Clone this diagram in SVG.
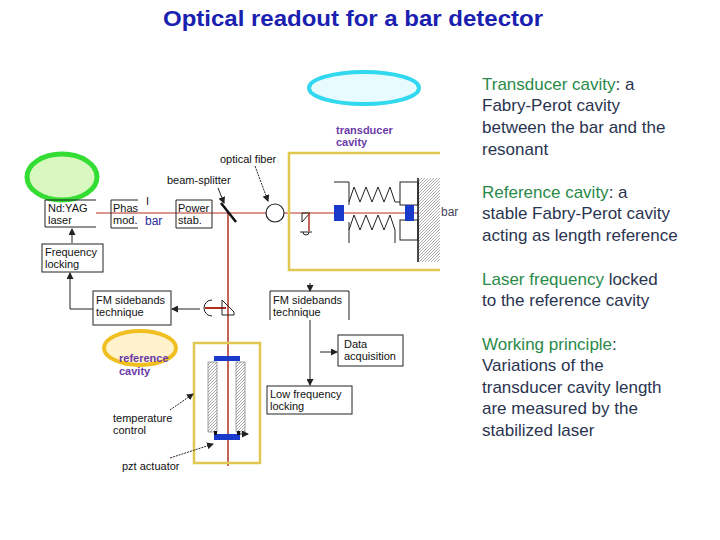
<svg xmlns="http://www.w3.org/2000/svg" width="720" height="540" viewBox="0 0 720 540">
<style>
text{font-family:"Liberation Sans",Arial,sans-serif}
.s{font-size:11px;fill:#111}
.r{font-size:17px;fill:#2a3450}
.g{fill:#2a8a4a}
.b{fill:none;stroke:#222;stroke-width:1}
.p{font-size:11px;font-weight:bold;fill:#6a3aa8}
.y{fill:none;stroke:#e0c850;stroke-width:2.5}
.a{stroke:#222;stroke-width:1;fill:none;marker-end:url(#ar)}
</style>
<defs>
<marker id="ar" markerWidth="7" markerHeight="7" refX="6" refY="3.5" orient="auto"><path d="M0,0L7,3.5L0,7z" fill="#222"/></marker>
<pattern id="h" width="3" height="3" patternUnits="userSpaceOnUse"><rect width="3" height="3" fill="#fff"/><path d="M0,3L3,0" stroke="#888" stroke-width="0.7"/></pattern>
</defs>
<rect width="720" height="540" fill="#fff"/>
<text x="163" y="26" textLength="380" lengthAdjust="spacingAndGlyphs" font-size="22" font-weight="bold" fill="#1a20b0">Optical readout for a bar detector</text>
<ellipse id="cyan" cx="364" cy="88" rx="55" ry="16" fill="#e8fbff" stroke="#30d8f0" stroke-width="4"/>
<ellipse id="green" cx="62" cy="177" rx="35" ry="23" fill="#d8f8c0" stroke="#33dd33" stroke-width="5"/>
<ellipse id="orange" cx="140" cy="348" rx="36" ry="17" fill="#fff2cc" stroke="#f0c020" stroke-width="4"/>
<g id="beams" stroke="#b03020">
<line x1="96" y1="213" x2="418" y2="213" stroke-width="1"/>
<line x1="228" y1="213" x2="228" y2="466" stroke-width="1.5"/>
<line x1="205" y1="308" x2="226" y2="308" stroke-width="2"/>
</g>
<g id="laser"><path class="b" d="M96,200H45V227H96"/><text class="s" x="48" y="212">Nd:YAG</text><text class="s" x="48" y="224">laser</text></g>
<g id="phase"><path class="b" d="M138,200H111V228H138"/><text class="s" x="113" y="212">Phas</text><text class="s" x="113" y="224">mod.</text><text x="145" y="225" font-size="12" fill="#2a2a9a">bar</text><text class="s" x="146" y="205">I</text></g>
<g id="power"><path class="b" d="M212,200H176V228H212Z"/><text class="s" x="178" y="212">Power</text><text class="s" x="178" y="224">stab.</text></g>
<line x1="221" y1="203" x2="236" y2="222" stroke="#111" stroke-width="2.5"/>
<circle cx="275" cy="213" r="9" fill="#fff" stroke="#222" stroke-width="1.2"/>
<text class="s" x="220" y="163">optical fiber</text>
<text class="s" x="167" y="184">beam-splitter</text>
<g id="transducer">
<path class="y" d="M440,153H289V270H440"/>
<text class="p" x="336" y="134">transducer</text><text class="p" x="336" y="146">cavity</text>
<rect x="418" y="178" width="22" height="84" fill="url(#h)"/><line x1="418" y1="178" x2="418" y2="262" stroke="#111" stroke-width="1.5"/>
<rect x="400" y="182" width="18" height="23" class="b"/><rect x="400" y="220" width="18" height="20" class="b"/>
<path class="b" d="M334,182H349V205M349,202l5,-15l6,15l6,-15l6,15l6,-15l6,15l6,-15l5,15H400"/>
<path class="b" d="M349,222V243M349,230l5,-15l6,15l6,-15l6,15l6,-15l6,15l6,-15l5,15V243"/>
<rect x="334" y="205" width="10" height="16" fill="#1a3acc"/>
<rect x="405" y="205" width="9" height="16" fill="#1a3acc"/>
<path class="b" d="M302,222l8,-9h-8zM300,232h12M303,232a3,3 0 0 0 6,0"/>
<line x1="309" y1="213" x2="309" y2="231" stroke="#b03020" stroke-width="1.5"/>
<text x="441" y="216" font-size="12" fill="#445">bar</text>
</g>
<g id="freq"><rect class="b" x="42" y="244" width="61" height="28"/><text class="s" x="45" y="256">Frequency</text><text class="s" x="45" y="268">locking</text></g>
<g id="fm1"><rect class="b" x="93" y="291" width="78" height="34"/><text class="s" x="96" y="304">FM sidebands</text><text class="s" x="96" y="316">technique</text></g>
<g id="fm2"><path class="b" d="M349,320V291H270V320"/><text class="s" x="273" y="304">FM sidebands</text><text class="s" x="273" y="316">technique</text></g>
<g id="data"><rect class="b" x="338" y="335" width="65" height="31"/><text class="s" x="344" y="348">Data</text><text class="s" x="344" y="360">acquisition</text></g>
<g id="low"><rect class="b" x="267" y="386" width="85" height="28"/><text class="s" x="270" y="398">Low frequency</text><text class="s" x="270" y="410">locking</text></g>
<g id="detector"><path class="b" d="M212,300a8,8 0 0 0 -8,8a8,8 0 0 0 8,8M222,300l12,12v3h-12z"/></g>
<g id="reference">
<rect class="y" x="194" y="343" width="66" height="120"/>
<text class="p" x="119" y="362">reference</text><text class="p" x="119" y="375">cavity</text>
<rect x="208" y="362" width="9" height="70" fill="url(#h)" stroke="#666" stroke-width="0.6"/>
<rect x="236" y="362" width="9" height="70" fill="url(#h)" stroke="#666" stroke-width="0.6"/>
<rect x="214" y="356" width="26" height="5" fill="#1a3acc"/>
<rect x="214" y="434" width="26" height="6" fill="#1a3acc"/>
<rect x="214" y="431" width="3" height="4" fill="#111"/><rect x="237" y="431" width="3" height="4" fill="#111"/>
<text class="s" x="113" y="422">temperature</text><text class="s" x="113" y="434">control</text>
<text class="s" x="122" y="470">pzt actuator</text>
</g>
<g id="connectors">
<line class="a" x1="255" y1="166" x2="268" y2="201" stroke-dasharray="2,1"/>
<line class="a" x1="218" y1="188" x2="224" y2="203"/>
<line class="a" x1="72" y1="243" x2="72" y2="229"/>
<path class="a" d="M93,309H70V273" stroke="#777"/>
<line class="a" x1="200" y1="309" x2="172" y2="309"/>
<line class="a" x1="310" y1="283" x2="310" y2="291"/>
<line class="a" x1="310" y1="320" x2="310" y2="385"/>
<line class="a" x1="320" y1="352" x2="337" y2="352"/>
<line class="a" x1="170" y1="410" x2="193" y2="394" stroke-dasharray="2,1"/>
<line class="a" x1="170" y1="458" x2="213" y2="444" stroke-dasharray="2,1"/>
<line class="a" x1="240" y1="434" x2="248" y2="434"/>
</g>
<g id="notes" class="r">
<text x="482" y="90"><tspan class="g">Transducer cavity</tspan>: a</text>
<text x="482" y="111">Fabry-Perot cavity</text>
<text x="482" y="133">between the bar and the</text>
<text x="482" y="155">resonant</text>
<text x="482" y="198"><tspan class="g">Reference cavity</tspan>: a</text>
<text x="482" y="219">stable Fabry-Perot cavity</text>
<text x="482" y="241">acting as length reference</text>
<text x="482" y="285"><tspan class="g">Laser frequency</tspan> locked</text>
<text x="482" y="306">to the reference cavity</text>
<text x="482" y="350"><tspan class="g">Working principle</tspan>:</text>
<text x="482" y="371">Variations of the</text>
<text x="482" y="393">transducer cavity length</text>
<text x="482" y="414">are measured by the</text>
<text x="482" y="436">stabilized laser</text>
</g>
</svg>
